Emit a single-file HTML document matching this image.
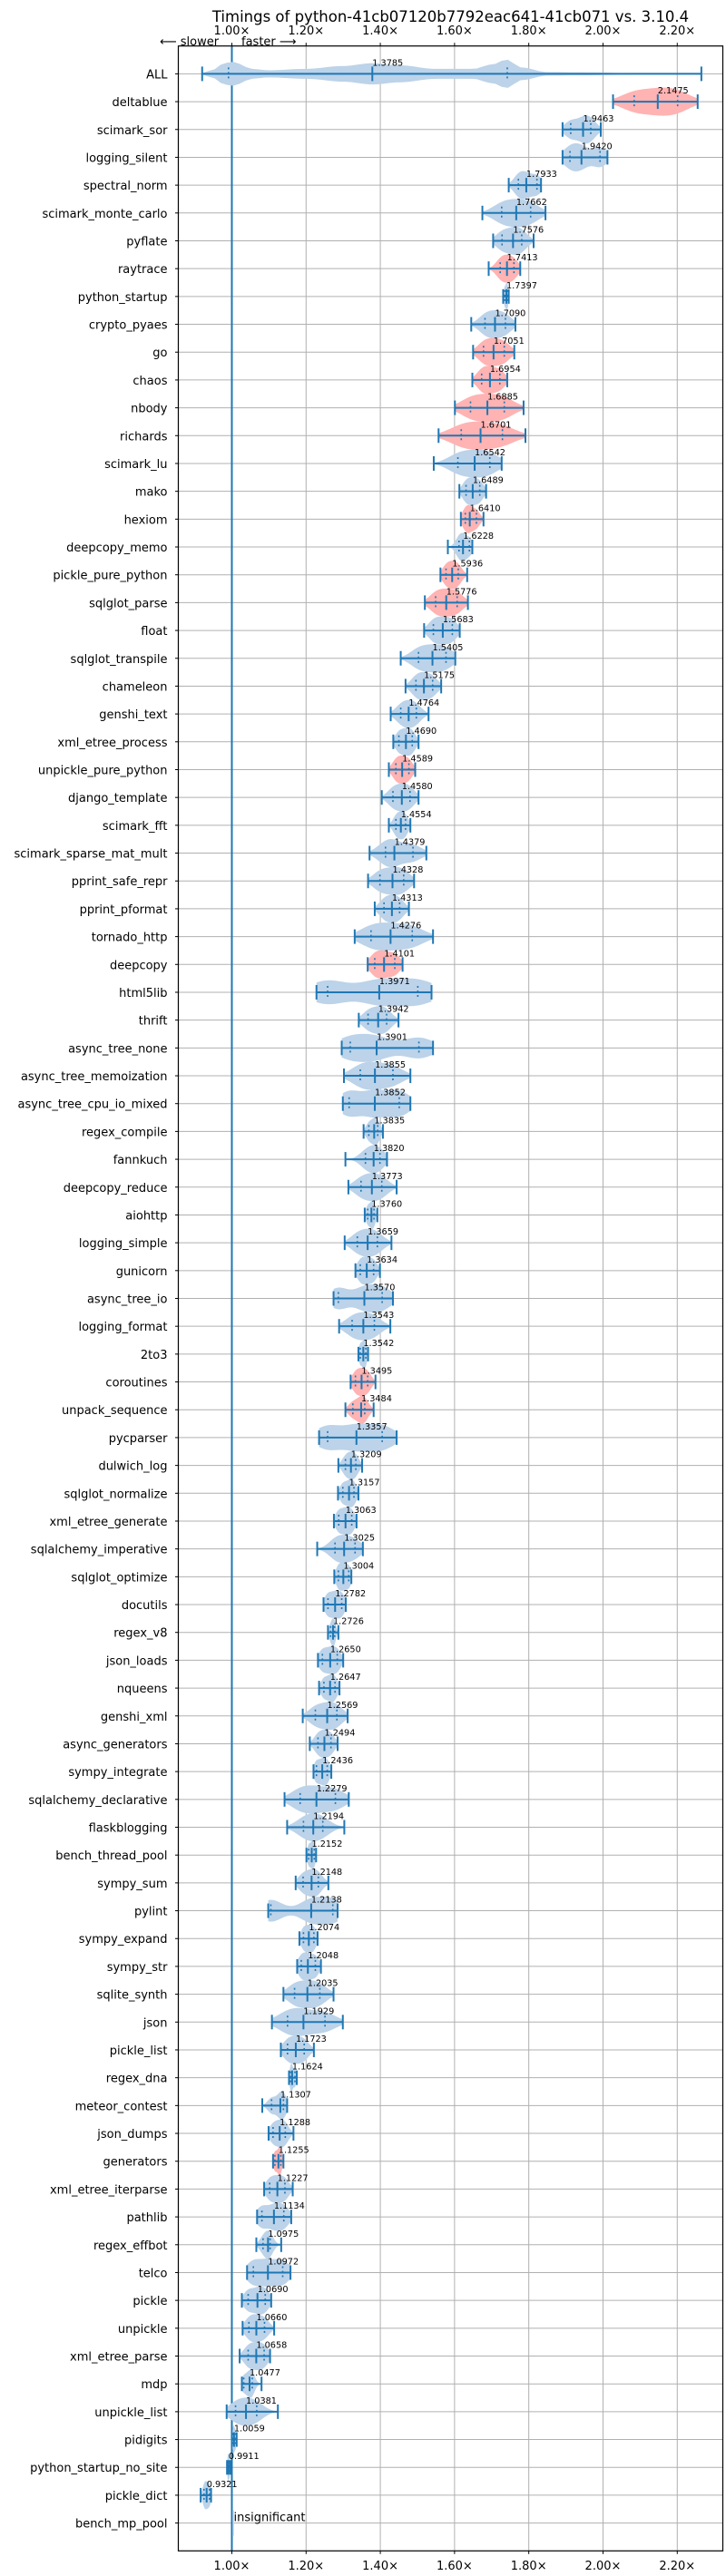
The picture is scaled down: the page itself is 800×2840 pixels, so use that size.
<!DOCTYPE html>
<html><head><meta charset="utf-8"><title>Timings violin chart</title>
<style>
html,body{margin:0;padding:0;background:#fff;}
svg{display:block;font-family:"DejaVu Sans","Liberation Sans",sans-serif;}
</style></head>
<body>
<svg id="chart" width="800" height="2840" viewBox="0 0 800 2840" xmlns="http://www.w3.org/2000/svg">
<text x="496.5" y="24" text-anchor="middle" font-size="16.5" fill="#000">Timings of python-41cb07120b7792eac641-41cb071 vs. 3.10.4</text>
<text x="176" y="50" font-size="13" fill="#000">⟵ slower</text>
<text x="266" y="50" font-size="13" fill="#000">faster ⟶</text>
<g id="grid"></g>
<g id="marks"></g>
<g id="axes"></g>
</svg>
<script>
const names = ["ALL","deltablue","scimark_sor","logging_silent","spectral_norm","scimark_monte_carlo","pyflate","raytrace","python_startup","crypto_pyaes","go","chaos","nbody","richards","scimark_lu","mako","hexiom","deepcopy_memo","pickle_pure_python","sqlglot_parse","float","sqlglot_transpile","chameleon","genshi_text","xml_etree_process","unpickle_pure_python","django_template","scimark_fft","scimark_sparse_mat_mult","pprint_safe_repr","pprint_pformat","tornado_http","deepcopy","html5lib","thrift","async_tree_none","async_tree_memoization","async_tree_cpu_io_mixed","regex_compile","fannkuch","deepcopy_reduce","aiohttp","logging_simple","gunicorn","async_tree_io","logging_format","2to3","coroutines","unpack_sequence","pycparser","dulwich_log","sqlglot_normalize","xml_etree_generate","sqlalchemy_imperative","sqlglot_optimize","docutils","regex_v8","json_loads","nqueens","genshi_xml","async_generators","sympy_integrate","sqlalchemy_declarative","flaskblogging","bench_thread_pool","sympy_sum","pylint","sympy_expand","sympy_str","sqlite_synth","json","pickle_list","regex_dna","meteor_contest","json_dumps","generators","xml_etree_iterparse","pathlib","regex_effbot","telco","pickle","unpickle","xml_etree_parse","mdp","unpickle_list","pidigits","python_startup_no_site","pickle_dict","bench_mp_pool"];
const mins = [0.92,2.027,1.891,1.891,1.746,1.675,1.704,1.692,1.731,1.645,1.650,1.648,1.601,1.557,1.544,1.613,1.617,1.582,1.562,1.520,1.518,1.455,1.468,1.428,1.435,1.423,1.404,1.423,1.371,1.367,1.385,1.331,1.366,1.228,1.342,1.296,1.302,1.299,1.355,1.306,1.314,1.358,1.304,1.333,1.274,1.289,1.341,1.320,1.306,1.235,1.287,1.286,1.275,1.230,1.276,1.247,1.259,1.232,1.235,1.191,1.210,1.220,1.142,1.149,1.201,1.172,1.098,1.182,1.176,1.139,1.108,1.132,1.154,1.082,1.099,1.111,1.087,1.068,1.066,1.041,1.027,1.029,1.021,1.027,0.986,1.000,0.987,0.916,null];
const q1s = [0.991,2.084,1.913,1.911,1.772,1.727,1.728,1.723,1.735,1.682,1.678,1.673,1.643,1.618,1.609,1.631,1.629,1.612,1.577,1.549,1.543,1.503,1.496,1.455,1.450,1.442,1.434,1.442,1.414,1.399,1.410,1.375,1.385,1.258,1.367,1.319,1.346,1.316,1.369,1.360,1.348,1.366,1.338,1.346,1.287,1.324,1.346,1.333,1.326,1.258,1.306,1.299,1.288,1.278,1.287,1.259,1.266,1.244,1.248,1.225,1.232,1.228,1.184,1.193,1.207,1.192,1.105,1.193,1.187,1.169,1.150,1.150,1.158,1.107,1.111,1.116,1.102,1.081,1.084,1.058,1.044,1.046,1.044,1.032,1.010,1.003,0.989,0.925,null];
const medians = [1.3785,2.1475,1.9463,1.9420,1.7933,1.7662,1.7576,1.7413,1.7397,1.7090,1.7051,1.6954,1.6885,1.6701,1.6542,1.6489,1.6410,1.6228,1.5936,1.5776,1.5683,1.5405,1.5175,1.4764,1.4690,1.4589,1.4580,1.4554,1.4379,1.4328,1.4313,1.4276,1.4101,1.3971,1.3942,1.3901,1.3855,1.3852,1.3835,1.3820,1.3773,1.3760,1.3659,1.3634,1.3570,1.3543,1.3542,1.3495,1.3484,1.3357,1.3209,1.3157,1.3063,1.3025,1.3004,1.2782,1.2726,1.2650,1.2647,1.2569,1.2494,1.2436,1.2279,1.2194,1.2152,1.2148,1.2138,1.2074,1.2048,1.2035,1.1929,1.1723,1.1624,1.1307,1.1288,1.1255,1.1227,1.1134,1.0975,1.0972,1.0690,1.0660,1.0658,1.0477,1.0381,1.0059,0.9911,0.9321,null];
const q3s = [1.742,2.201,1.967,1.992,1.822,1.805,1.781,1.760,1.743,1.737,1.734,1.722,1.734,1.729,1.695,1.668,1.659,1.640,1.610,1.607,1.594,1.577,1.541,1.497,1.486,1.477,1.480,1.468,1.488,1.463,1.452,1.486,1.439,1.501,1.417,1.504,1.434,1.451,1.393,1.399,1.404,1.383,1.392,1.382,1.405,1.384,1.361,1.366,1.358,1.405,1.334,1.329,1.323,1.332,1.315,1.296,1.277,1.284,1.278,1.283,1.267,1.257,1.279,1.245,1.222,1.233,1.272,1.221,1.225,1.237,1.251,1.195,1.170,1.139,1.144,1.132,1.143,1.140,1.103,1.137,1.090,1.088,1.087,1.055,1.067,1.010,0.994,0.940,null];
const maxs = [2.265,2.255,1.994,2.012,1.833,1.845,1.813,1.777,1.746,1.764,1.761,1.742,1.786,1.791,1.727,1.685,1.678,1.648,1.634,1.636,1.614,1.602,1.564,1.530,1.503,1.494,1.503,1.481,1.524,1.491,1.477,1.542,1.460,1.538,1.449,1.542,1.481,1.481,1.407,1.418,1.444,1.392,1.430,1.399,1.434,1.427,1.367,1.387,1.382,1.444,1.351,1.341,1.336,1.353,1.322,1.307,1.287,1.300,1.290,1.312,1.285,1.268,1.315,1.303,1.227,1.260,1.285,1.231,1.240,1.274,1.299,1.221,1.175,1.149,1.166,1.139,1.164,1.160,1.133,1.158,1.106,1.114,1.103,1.080,1.124,1.013,0.996,0.944,null];
const slowerNames = ["deltablue","raytrace","go","chaos","nbody","richards","hexiom","pickle_pure_python","sqlglot_parse","unpickle_pure_python","deepcopy","coroutines","unpack_sequence","generators"];
const allDensityX = [0.92,0.95,0.98,1.0,1.02,1.05,1.1,1.2,1.3,1.38,1.45,1.55,1.65,1.70,1.74,1.78,1.85,1.95,2.1,2.265];
const allDensity = [0.05,0.3,0.75,0.85,0.7,0.35,0.25,0.35,0.55,0.75,0.6,0.35,0.35,0.65,1.0,0.45,0.12,0.1,0.04,0.0];
const xTicks = [1.0,1.2,1.4,1.6,1.8,2.0,2.2];
const xTickLabels = ["1.00x","1.20x","1.40x","1.60x","1.80x","2.00x","2.20x"];

const NS = "http://www.w3.org/2000/svg";
const L = 196.5, R = 796.5, T = 50.7, B = 2812.3;
const xMin = 0.8558, xMax = 2.3228;
function xs(v){ return L + (v - xMin) / (xMax - xMin) * (R - L); }
const rowStep = (B - T) / (names.length + 1);
function ys(i){ return T + rowStep * (i + 1); }
const HALF = 15.5;
const BLUE = "#1f77b4";

function mk(tag, attrs, parent){
  const e = document.createElementNS(NS, tag);
  for (const k in attrs) e.setAttribute(k, attrs[k]);
  parent.appendChild(e);
  return e;
}
const grid = document.getElementById("grid");
const marks = document.getElementById("marks");
const axes = document.getElementById("axes");

// vertical grid + ticks + labels
xTicks.forEach((t, k) => {
  const x = xs(t);
  const g = mk("line", {x1:x, x2:x, y1:T, y2:B, stroke:"#b0b0b0", "stroke-width":1}, grid);
  
  
  const tt = mk("line", {x1:x, x2:x, y1:T-3.5, y2:T, stroke:"#000", "stroke-width":1}, axes);
  
  
  const tb = mk("line", {x1:x, x2:x, y1:B, y2:B+3.5, stroke:"#000", "stroke-width":1}, axes);
  
  
  const lt = mk("text", {x:x, y:38, "text-anchor":"middle", "font-size":13, fill:"#000"}, axes);
  lt.textContent = xTickLabels[k].replace("x","×");
  
  
  const lb = mk("text", {x:x, y:2833, "text-anchor":"middle", "font-size":13, fill:"#000"}, axes);
  lb.textContent = xTickLabels[k].replace("x","×");
  
  
});

// rows
names.forEach((n, i) => {
  const y = ys(i);
  const gl = mk("line", {x1:L, x2:R, y1:y, y2:y, stroke:"#b0b0b0", "stroke-width":1}, grid);
  
  
  const tk = mk("line", {x1:L-3.5, x2:L, y1:y, y2:y, stroke:"#000", "stroke-width":1}, axes);
  
  
  const lab = mk("text", {x:L-12, y:y+5, "text-anchor":"end", "font-size":13, fill:"#000"}, axes);
  lab.textContent = n;
  
  
});

// baseline at 1.0
const base = mk("line", {x1:xs(1), x2:xs(1), y1:T, y2:B, stroke:BLUE, "stroke-width":2}, marks);



function density(i, v){
  if (i === 0) {
    for (let k = 0; k < allDensityX.length - 1; k++) {
      if (v >= allDensityX[k] && v <= allDensityX[k+1]) {
        const f = (v - allDensityX[k]) / (allDensityX[k+1] - allDensityX[k]);
        const s = (1 - Math.cos(f * Math.PI)) / 2;
        return allDensity[k] * (1 - s) + allDensity[k+1] * s;
      }
    }
    return 0;
  }
  const s = (maxs[i] - mins[i]) / 6 || 0.001;
  let d = 0;
  [q1s[i], medians[i], q3s[i]].forEach(c => { d += Math.exp(-0.5 * Math.pow((v - c) / s, 2)); });
  return d;
}

names.forEach((n, i) => {
  const y = ys(i);
  if (medians[i] === null) {
    const ins = mk("line", {x1:xs(1)+1.5, x2:xs(1)+1.5, y1:y-14, y2:y+14, stroke:"#bcd3e9", "stroke-width":1.5}, marks);
    
    
    const t = mk("text", {x:xs(1.005), y:y-2, "font-size":13, fill:"#000"}, marks);
    t.textContent = "insignificant";
    
    
    return;
  }
  const N = 80;
  const pts = [];
  let dmax = 0;
  for (let k = 0; k <= N; k++) {
    const v = mins[i] + (maxs[i] - mins[i]) * k / N;
    const d = density(i, v);
    pts.push([v, d]);
    if (d > dmax) dmax = d;
  }
  let top = "", bot = "";
  pts.forEach((p, k) => {
    const w = HALF * p[1] / dmax;
    top += (k ? "L" : "M") + xs(p[0]).toFixed(2) + "," + (y - w).toFixed(2);
  });
  for (let k = pts.length - 1; k >= 0; k--) {
    const w = HALF * pts[k][1] / dmax;
    bot += "L" + xs(pts[k][0]).toFixed(2) + "," + (y + w).toFixed(2);
  }
  const slow = slowerNames.includes(n);
  const body = mk("path", {d: top + bot + "Z", fill: slow ? "#ffb3b3" : "#bcd3e9", stroke:"none"}, marks);
  
  

  const rng = mk("line", {x1:xs(mins[i]), x2:xs(maxs[i]), y1:y, y2:y, stroke:BLUE, "stroke-width":2}, marks);
  
  
  [mins[i], maxs[i]].forEach(v => {
    const c = mk("line", {x1:xs(v), x2:xs(v), y1:y-8, y2:y+8, stroke:BLUE, "stroke-width":2}, marks);
    
    
  });
  const m = mk("line", {x1:xs(medians[i]), x2:xs(medians[i]), y1:y-8, y2:y+8, stroke:BLUE, "stroke-width":2}, marks);
  
  
  [q1s[i], q3s[i]].forEach(v => {
    const q = mk("line", {x1:xs(v), x2:xs(v), y1:y-7, y2:y+7, stroke:BLUE, "stroke-width":1.6, "stroke-dasharray":"2,3"}, marks);
    
    
  });
  const t = mk("text", {x:xs(medians[i]), y:y-9, "font-size":9.7, fill:"#000"}, marks);
  t.textContent = medians[i].toFixed(4);
  
  
});

const frame = mk("rect", {x:L, y:T, width:R-L, height:B-T, fill:"none", stroke:"#000", "stroke-width":1.2}, axes);


</script>
</body></html>
